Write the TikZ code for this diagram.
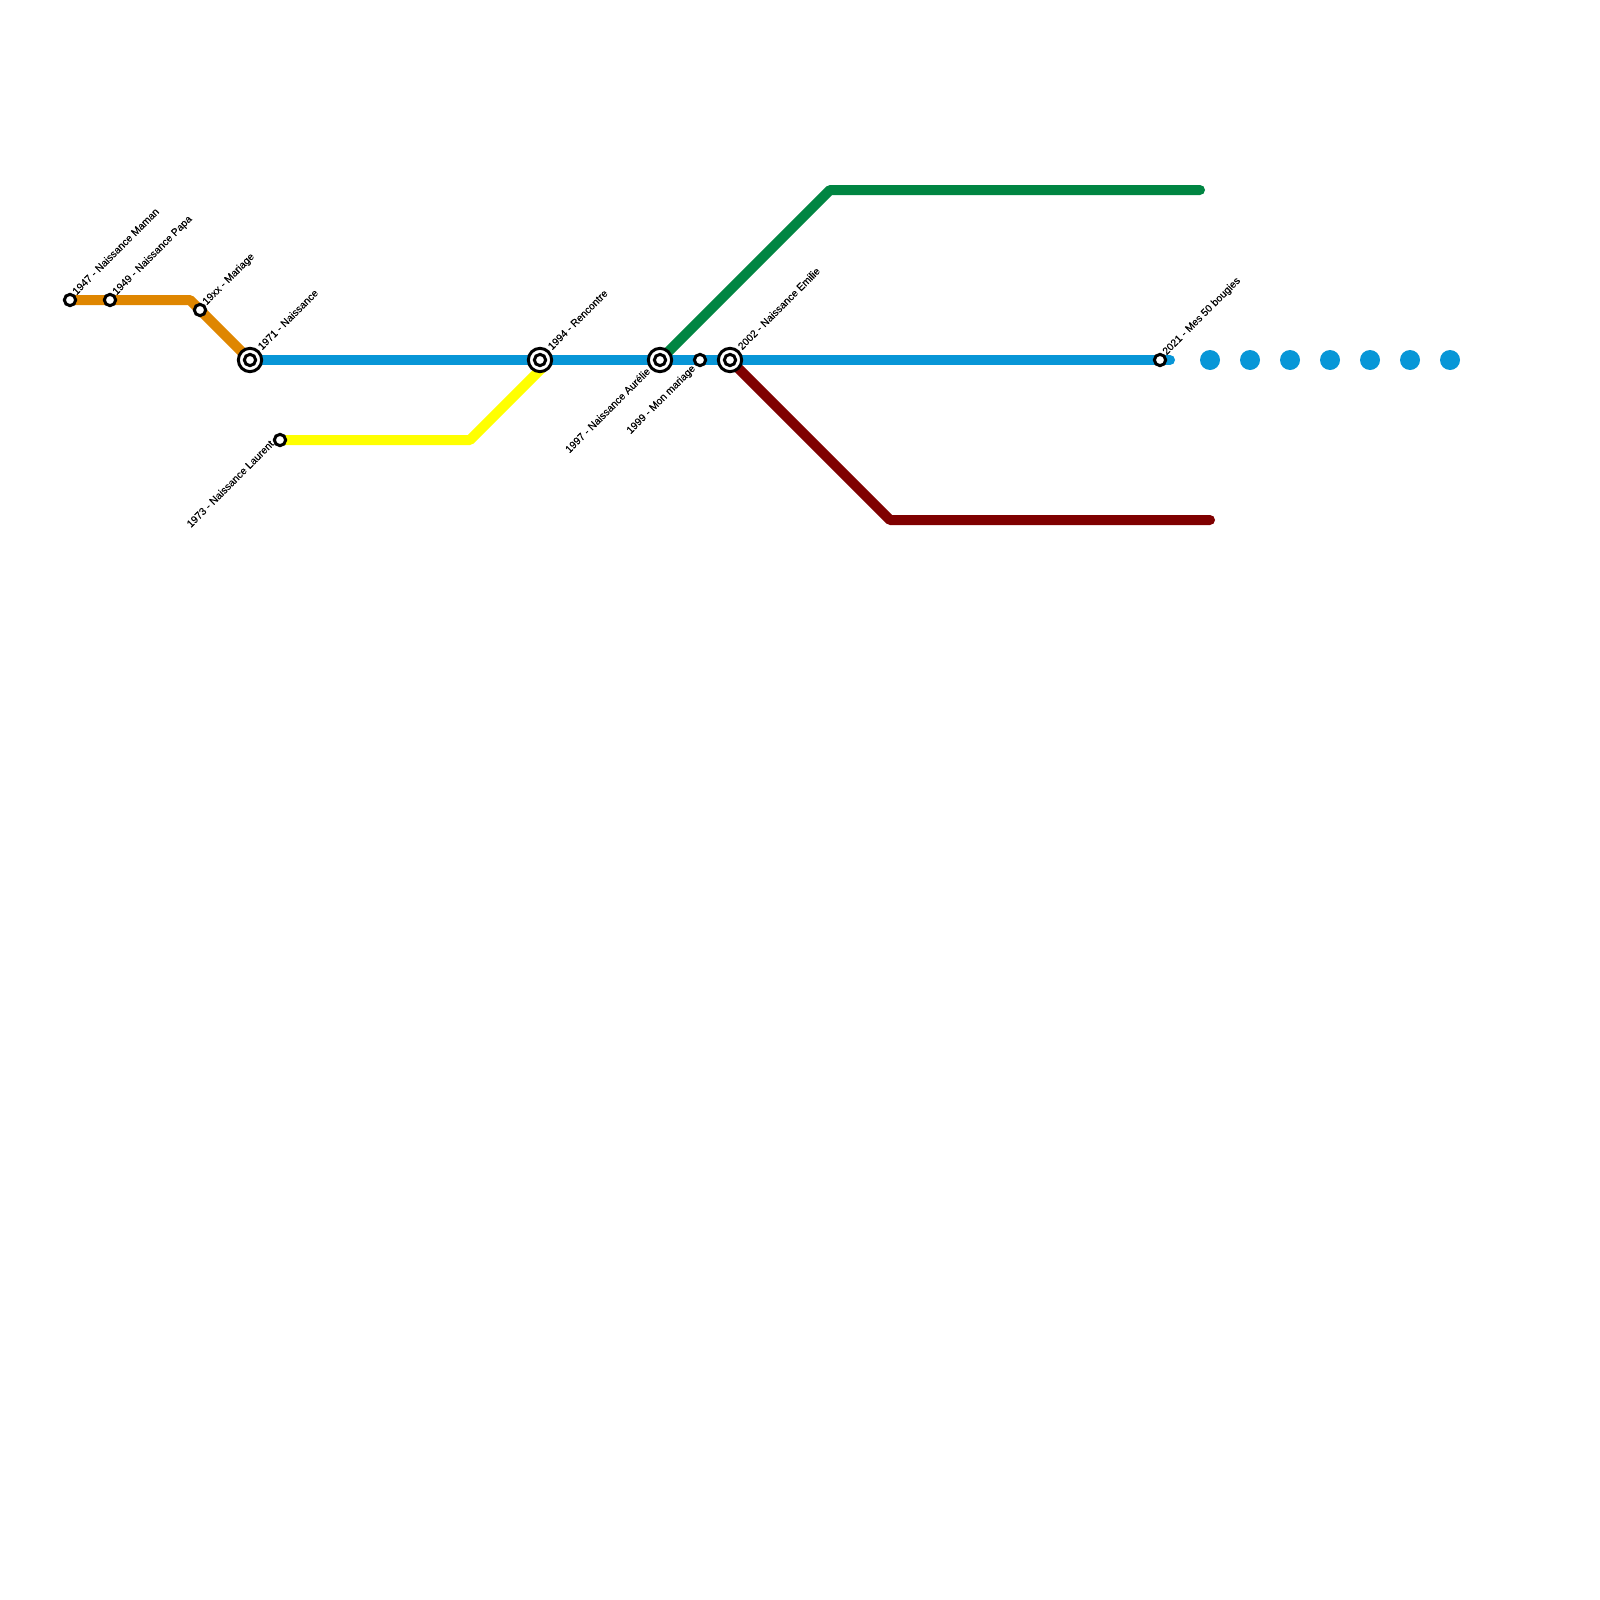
\documentclass[tikz,border=0pt]{standalone}
\usepackage{fontspec}
\setmainfont{Liberation Sans}
\usetikzlibrary{backgrounds}
\definecolor{mblue}{HTML}{0896D7}
\definecolor{morange}{HTML}{DF8600}
\definecolor{mgreen}{HTML}{008542}
\definecolor{mred}{HTML}{7F0000}
\definecolor{myellow}{HTML}{FFFF00}
\tikzset{
  x=1pt,y=-1pt,
  metro/.style={line width=10pt,line join=round,line cap=round},
  halt/.style={circle,draw=black,fill=white,line width=3pt,minimum size=11.3pt,inner sep=0pt},
  hub/.style={circle,draw=black,fill=white,line width=3pt,minimum size=23.3pt,inner sep=0pt},
  hubcore/.style={circle,draw=black,fill=white,line width=3pt,minimum size=11.3pt,inner sep=0pt},
  dotstop/.style={circle,fill=mblue,minimum size=20pt,inner sep=0pt},
  upl/.style={rotate=45,anchor=base west,inner sep=0pt,font=\fontsize{10.3}{11}\selectfont\addfontfeatures{FakeBold=0.2}},
  dnl/.style={rotate=45,anchor=base east,inner sep=0pt,font=\fontsize{10.3}{11}\selectfont\addfontfeatures{FakeBold=0.2}},
}
\begin{document}
\begin{tikzpicture}
\useasboundingbox (0,0) rectangle (1600,1600);
\node[halt] (s47) at (70,300) {};
\node[halt] (s49) at (110,300) {};
\node[halt] (sxx) at (200,310) {};
\node[hub] (s71) at (250,360) {};
\node[hubcore] (c71) at (250,360) {};
\node[halt] (s73) at (280,440) {};
\node[hub] (s94) at (540,360) {};
\node[hubcore] (c94) at (540,360) {};
\node[hub] (s97) at (660,360) {};
\node[hubcore] (c97) at (660,360) {};
\node[halt] (s99) at (700,360) {};
\node[hub] (s02) at (730,360) {};
\node[hubcore] (c02) at (730,360) {};
\node[halt] (s21) at (1160,360) {};
\coordinate (obend) at (190,300);
\coordinate (yb) at (470,440);
\coordinate (ye) at (546,364);
\coordinate (gb) at (830,190);
\coordinate (ge) at (1200,190);
\coordinate (rb) at (890,520);
\coordinate (re) at (1210,520);
\coordinate (be) at (1170,360);
\begin{pgfonlayer}{background}
\draw[metro,myellow] (s73.center) -- (yb) -- (ye);
\draw[metro,mgreen] (s97.center) -- (gb) -- (ge);
\draw[metro,mred] (s02.center) -- (rb) -- (re);
\draw[metro,morange] (s47.center) -- (obend) -- (s71.center);
\draw[metro,mblue] (s71.center) -- (be);
\end{pgfonlayer}
\foreach \n/\x in {d1/1210,d2/1250,d3/1290,d4/1330,d5/1370,d6/1410,d7/1450}
  \node[dotstop] (\n) at (\x,360) {};
\node[upl] (l47) at (76.5,295.5) {1947 - Naissance Maman};
\node[upl] (l49) at (116.5,295.5) {1949 - Naissance Papa};
\node[upl] (lxx) at (206.5,305.5) {19xx - Mariage};
\node[upl] (l71) at (262,350.5) {1971 - Naissance};
\node[upl] (l94) at (552,350.5) {1994 - Rencontre};
\node[upl] (l02) at (742,350.5) {2002 - Naissance Emilie};
\node[upl] (l21) at (1166.5,355.5) {2021 - Mes 50 bougies};
\node[dnl] (l73) at (274.5,444.5) {1973 - Naissance Laurent};
\node[dnl] (l97) at (651,372) {1997 - Naissance Aurélie};
\node[dnl] (l99) at (696,369) {1999 - Mon mariage};
\end{tikzpicture}
\end{document}
